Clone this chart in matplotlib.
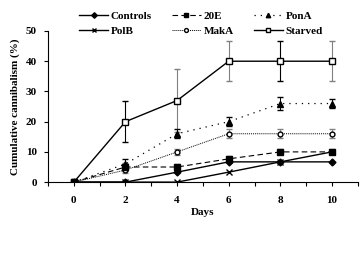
import numpy as np
import matplotlib.pyplot as plt
from matplotlib.ticker import MultipleLocator

plt.rcParams['font.family'] = ['Liberation Serif', 'DejaVu Serif']
plt.rcParams['font.weight'] = 'bold'

days = [0, 2, 4, 6, 8, 10]
controls = [0, 0, 3.3, 6.7, 6.7, 6.7]
e20 = [0, 5, 5, 7.7, 10, 10]
e20_err = [0, 1.2, 1.0, 1.0, 0.8, 0.8]
pona = [0, 6, 16, 20, 26, 26]
pona_err = [0, 1.5, 1.5, 1.5, 2, 1.5]
polb = [0, 0, 0, 3.3, 6.7, 10]
maka = [0, 4, 10, 16, 16, 16]
maka_err = [0, 1, 1, 1.5, 1.5, 1.5]
starved = [0, 20, 27, 40, 40, 40]
starved_err = [0, 6.7, 10.5, 6.7, 6.7, 6.7]
starved_ecol = ['black', 'black', 'gray', 'gray', 'black', 'gray']

fig = plt.figure(figsize=(3.64, 2.54), dpi=100)
ax = fig.add_axes([0.132, 0.283, 0.851, 0.595])

# error bars first, lines and markers on top
for d, v, e, c in zip(days, starved, starved_err, starved_ecol):
    if e > 0:
        ax.errorbar([d], [v], yerr=[e], fmt='none', ecolor=c, elinewidth=0.8,
                    capsize=2, zorder=2)
ax.errorbar(days, pona, yerr=pona_err, fmt='none', ecolor='black',
            elinewidth=0.7, capsize=2, zorder=2)
ax.errorbar(days, maka, yerr=maka_err, fmt='none', ecolor='gray',
            elinewidth=0.7, capsize=2, zorder=2)
ax.errorbar(days, e20, yerr=e20_err, fmt='none', ecolor='gray',
            elinewidth=0.7, capsize=2, zorder=2)

ax.plot(days, starved, color='black', marker='s', mfc='white', ms=4, lw=1,
        label='Starved', zorder=3)
ax.plot(days, pona, color='black', marker='^', ms=4, lw=0.9, ls=(0, (1, 4)),
        label='PonA', zorder=3)
ax.plot(days, maka, color='black', marker='o', mfc='white', ms=3.5, lw=0.7,
        ls=(0, (1, 1)), label='MakA', zorder=3)
ax.plot(days, e20, color='black', marker='s', ms=4, lw=0.8, ls=(0, (5, 3)),
        label='20E', zorder=3)
ax.plot(days, polb, color='black', marker='x', ms=4, lw=1, label='PolB', zorder=4)
ax.plot(days, controls, color='black', marker='D', ms=3.5, lw=1,
        label='Controls', zorder=4)

ax.set_xlim(-1, 11)
ax.set_ylim(0, 50)
ax.xaxis.set_major_locator(MultipleLocator(2))
ax.xaxis.set_minor_locator(MultipleLocator(1))
ax.yaxis.set_major_locator(MultipleLocator(10))
ax.spines['top'].set_visible(False)
ax.spines['right'].set_visible(False)
ax.tick_params(axis='both', labelsize=8, direction='out', length=3, width=0.8)
ax.tick_params(axis='y', pad=5)
ax.tick_params(axis='x', pad=7)
ax.tick_params(axis='x', which='minor', direction='out', length=3, width=0.8)
ax.set_xlabel('Days', fontsize=8, fontweight='bold', labelpad=2)
ax.set_ylabel('Cumulative cannibalism (%)', fontsize=8, fontweight='bold', labelpad=4)

h, l = ax.get_legend_handles_labels()
order = ['Controls', 'PolB', '20E', 'MakA', 'PonA', 'Starved']
hd = dict(zip(l, h))
fig.legend([hd[k] for k in order], order, ncol=3, loc='upper left',
           bbox_to_anchor=(0.19, 0.995), frameon=False, fontsize=8,
           handlelength=2.6, columnspacing=1.8, labelspacing=0.45,
           handletextpad=0.25, markerscale=0.8)

fig.savefig('out.png', dpi=100)
